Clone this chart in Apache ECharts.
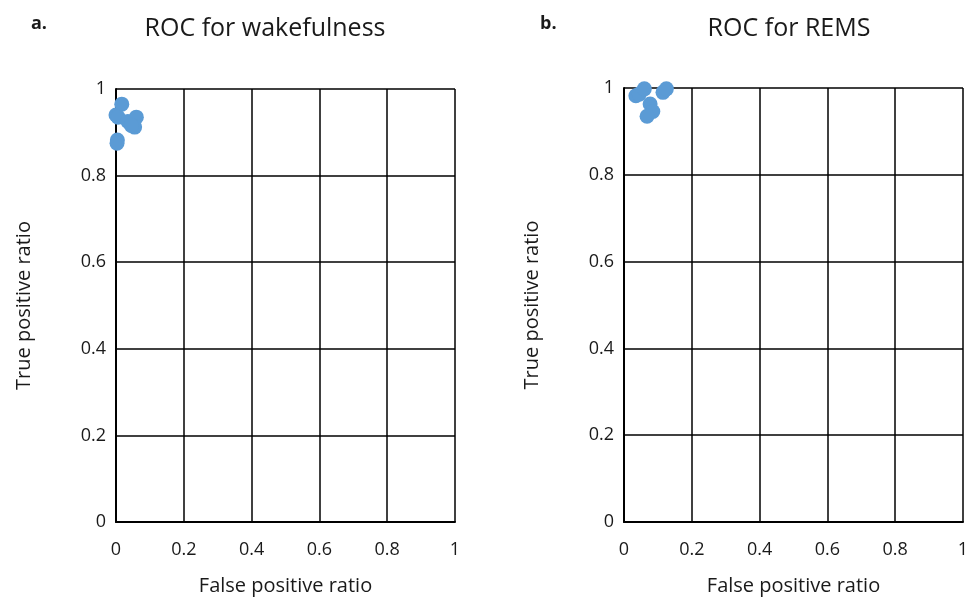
<!DOCTYPE html>
<html>
<head>
<meta charset="utf-8">
<script src="https://cdn.jsdelivr.net/npm/echarts@6/dist/echarts.min.js"></script>
<style>
  html, body { margin: 0; padding: 0; background: #fff; }
  #chart { width: 973px; height: 599px; }
</style>
</head>
<body>
<div id="chart"></div>
<script>
// 数据
var xTicks = [0, 0.2, 0.4, 0.6, 0.8, 1];
var yTicks = [0, 0.2, 0.4, 0.6, 0.8, 1];
var wakeFpr = [0.000, 0.017, 0.006, 0.035, 0.060, 0.055, 0.045, 0.004, 0.003];
var wakeTpr = [0.940, 0.965, 0.935, 0.925, 0.935, 0.912, 0.916, 0.882, 0.875];
var remsFpr = [0.035, 0.045, 0.060, 0.115, 0.125, 0.077, 0.085, 0.068];
var remsTpr = [0.982, 0.986, 0.998, 0.990, 0.998, 0.963, 0.946, 0.935];

function pairs(xs, ys) {
  return xs.map(function (x, i) { return [x, ys[i]]; });
}

var font = '"Open Sans", "Liberation Sans", sans-serif';
var myChart = echarts.init(document.getElementById('chart'));

function xAxis(idx) {
  return {
    type: 'value', gridIndex: idx, min: 0, max: 1, interval: 0.2,
    name: 'False positive ratio', nameLocation: 'middle', nameGap: 54,
    nameTextStyle: { fontSize: 20, color: '#1a1a1a', fontFamily: font },
    axisLine: { show: true, onZero: false, lineStyle: { color: '#000', width: 2 } },
    axisTick: { show: false },
    splitLine: { show: true, lineStyle: { color: '#000', width: 1.5 } },
    axisLabel: { fontSize: 18, color: '#1a1a1a', fontFamily: font, margin: 19,
      formatter: function (v) { return String(+v.toFixed(1)); } }
  };
}
function yAxis(idx) {
  return {
    type: 'value', gridIndex: idx, min: 0, max: 1, interval: 0.2,
    name: 'True positive ratio', nameLocation: 'middle', nameGap: 82,
    nameTextStyle: { fontSize: 20, color: '#1a1a1a', fontFamily: font },
    axisLine: { show: true, onZero: false, lineStyle: { color: '#000', width: 2 } },
    axisTick: { show: false },
    splitLine: { show: true, lineStyle: { color: '#000', width: 1.5 } },
    axisLabel: { fontSize: 18, color: '#1a1a1a', fontFamily: font, margin: 10,
      formatter: function (v) { return String(+v.toFixed(1)); } }
  };
}

option = {
  animation: false,
  backgroundColor: '#fff',
  title: [
    { text: 'ROC for wakefulness', left: 260, top: 11, textAlign: 'center',
      textStyle: { fontSize: 25, fontWeight: 'normal', color: '#1a1a1a', fontFamily: font } },
    { text: 'ROC for REMS', left: 784, top: 11, textAlign: 'center',
      textStyle: { fontSize: 25, fontWeight: 'normal', color: '#1a1a1a', fontFamily: font } },
    { text: 'a.', left: 26, top: 10,
      textStyle: { fontSize: 18, fontWeight: 'bold', color: '#1a1a1a', fontFamily: font } },
    { text: 'b.', left: 535, top: 10,
      textStyle: { fontSize: 18, fontWeight: 'bold', color: '#1a1a1a', fontFamily: font } }
  ],
  grid: [
    { left: 116, right: 518, top: 89, bottom: 77, outerBoundsMode: 'none' },
    { left: 624, right: 10, top: 88, bottom: 77, outerBoundsMode: 'none' }
  ],
  xAxis: [xAxis(0), xAxis(1)],
  yAxis: [yAxis(0), yAxis(1)],
  series: [
    { type: 'scatter', xAxisIndex: 0, yAxisIndex: 0, symbolSize: 15,
      itemStyle: { color: '#5b9bd5', opacity: 1 }, data: pairs(wakeFpr, wakeTpr) },
    { type: 'scatter', xAxisIndex: 1, yAxisIndex: 1, symbolSize: 15,
      itemStyle: { color: '#5b9bd5', opacity: 1 }, data: pairs(remsFpr, remsTpr) }
  ]
};
myChart.setOption(option);
window.addEventListener('resize', function () {
  myChart.resize();
});
</script>
</body>
</html>
